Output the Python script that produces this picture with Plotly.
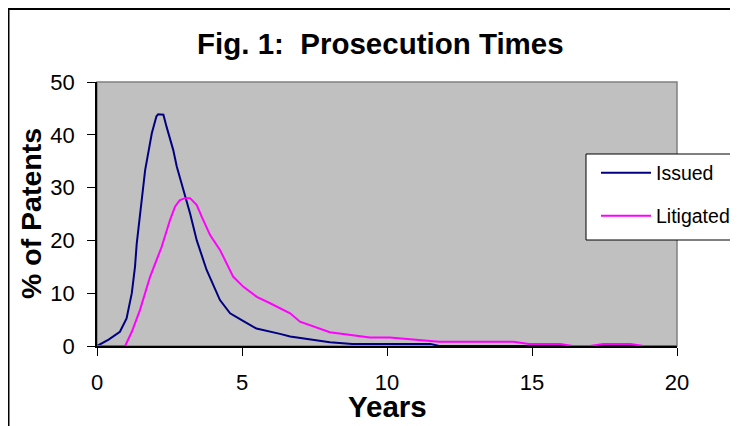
import plotly.graph_objects as go

issued_x = [0, 0.4, 0.79, 1.02, 1.2, 1.31, 1.37, 1.48, 1.66, 1.89, 2.05, 2.11, 2.29, 2.40, 2.63, 2.75, 2.98, 3.21, 3.44, 3.78, 4.24, 4.59, 4.99, 5.5, 6.31, 6.66, 8.03, 8.8, 11.5, 11.8, 20]
issued_y = [0, 1.2, 2.7, 5.2, 10, 15, 19.4, 25, 33.3, 40.3, 43.5, 43.9, 43.8, 41.5, 37.1, 34, 29.5, 25.1, 20, 14.4, 8.7, 6.2, 4.9, 3.3, 2.3, 1.8, 0.7, 0.4, 0.4, 0, 0]

litig_x = [0, 0.97, 1.2, 1.48, 1.83, 2.23, 2.52, 2.69, 2.85, 3.03, 3.21, 3.44, 3.61, 3.9, 4.24, 4.7, 5.05, 5.51, 5.97, 6.31, 6.66, 7.0, 8.03, 9.41, 10.1, 11.8, 14.36, 14.9, 15.97, 16.4, 17.0, 17.46, 18.4, 18.84, 20]
litig_y = [0, 0, 2.7, 6.8, 13.1, 18.8, 23.9, 26.4, 27.6, 28, 28, 26.7, 24.5, 21, 18.2, 13.1, 11.2, 9.3, 8.1, 7.1, 6.2, 4.6, 2.6, 1.6, 1.6, 0.8, 0.8, 0.4, 0.4, 0, 0, 0.4, 0.4, 0, 0]

x_ticks = [0, 5, 10, 15, 20]
y_ticks = [0, 10, 20, 30, 40, 50]

FONT = "Liberation Sans, Arial, sans-serif"

fig = go.Figure()
fig.add_trace(go.Scatter(x=issued_x, y=issued_y, mode="lines", name="Issued",
                         line=dict(color="#000080", width=2), legend="legend"))
fig.add_trace(go.Scatter(x=litig_x, y=litig_y, mode="lines", name="Litigated",
                         line=dict(color="#FF00FF", width=2), legend="legend2"))

# page has an 8px body margin; work in page pixels and convert
OFF = 8
W, H = 738 - OFF, 426 - OFF
L, R, T, B = 97 - OFF, 677 - OFF, 82 - OFF, 346 - OFF
pw, ph = R - L, B - T
def px(x):
    return (x - OFF - L) / pw
def py(y):
    return (B - (y - OFF)) / ph

shapes = [
    dict(type="rect", xref="paper", yref="paper", x0=px(OFF + 0.5), x1=px(760), y0=py(440), y1=py(9),
         line=dict(color="black", width=2), fillcolor="rgba(0,0,0,0)", layer="below"),
    dict(type="rect", xref="paper", yref="paper", x0=0, x1=1, y0=0, y1=1,
         line=dict(color="#808080", width=1.5), fillcolor="rgba(0,0,0,0)", layer="below"),
    dict(type="rect", xref="paper", yref="paper", x0=px(586), x1=px(760), y0=py(240), y1=py(154),
         line=dict(color="black", width=1), fillcolor="white", layer="above"),
]

annotations = [
    dict(text="<b>Fig. 1:  Prosecution Times</b>", xref="paper", yref="paper",
         x=px(380), y=py(44), xanchor="center", yanchor="middle", showarrow=False,
         font=dict(family=FONT, size=29.5, color="black")),
    dict(text="<b>Years</b>", xref="paper", yref="paper",
         x=px(387), y=py(406), xanchor="center", yanchor="middle", showarrow=False,
         font=dict(family=FONT, size=29.5, color="black")),
    dict(text="<b>% of Patents</b>", xref="paper", yref="paper", textangle=-90,
         x=px(31), y=py(214), xanchor="center", yanchor="middle", showarrow=False,
         font=dict(family=FONT, size=28.5, color="black")),
]

fig.update_layout(
    width=W, height=H,
    margin=dict(l=L, r=W - R, t=T, b=H - B, pad=0, autoexpand=False),
    paper_bgcolor="white",
    plot_bgcolor="#C0C0C0",
    shapes=shapes,
    annotations=annotations,
    showlegend=True,
    legend=dict(x=px(596), y=py(173), xanchor="left", yanchor="middle",
                bgcolor="rgba(0,0,0,0)", borderwidth=0, itemwidth=50,
                font=dict(family=FONT, size=19.5, color="black")),
    legend2=dict(x=px(596), y=py(216), xanchor="left", yanchor="middle",
                 bgcolor="rgba(0,0,0,0)", borderwidth=0, itemwidth=50,
                 font=dict(family=FONT, size=19.5, color="black")),
    xaxis=dict(range=[0, 20], tickvals=x_ticks, ticktext=[str(v) for v in x_ticks],
               showgrid=False, zeroline=False, showline=True, linecolor="black", linewidth=1.5,
               ticks="outside", ticklen=8, tickcolor="black", tickwidth=1,
               ticklabelstandoff=8, automargin=False,
               tickfont=dict(family=FONT, size=22, color="black")),
    yaxis=dict(range=[0, 50], tickvals=y_ticks, ticktext=[str(v) for v in y_ticks],
               showgrid=False, zeroline=False, showline=True, linecolor="black", linewidth=1.5,
               ticks="outside", ticklen=8, tickcolor="black", tickwidth=1,
               ticklabelstandoff=8, automargin=False,
               tickfont=dict(family=FONT, size=22, color="black")),
)

fig.write_html("out.html")
